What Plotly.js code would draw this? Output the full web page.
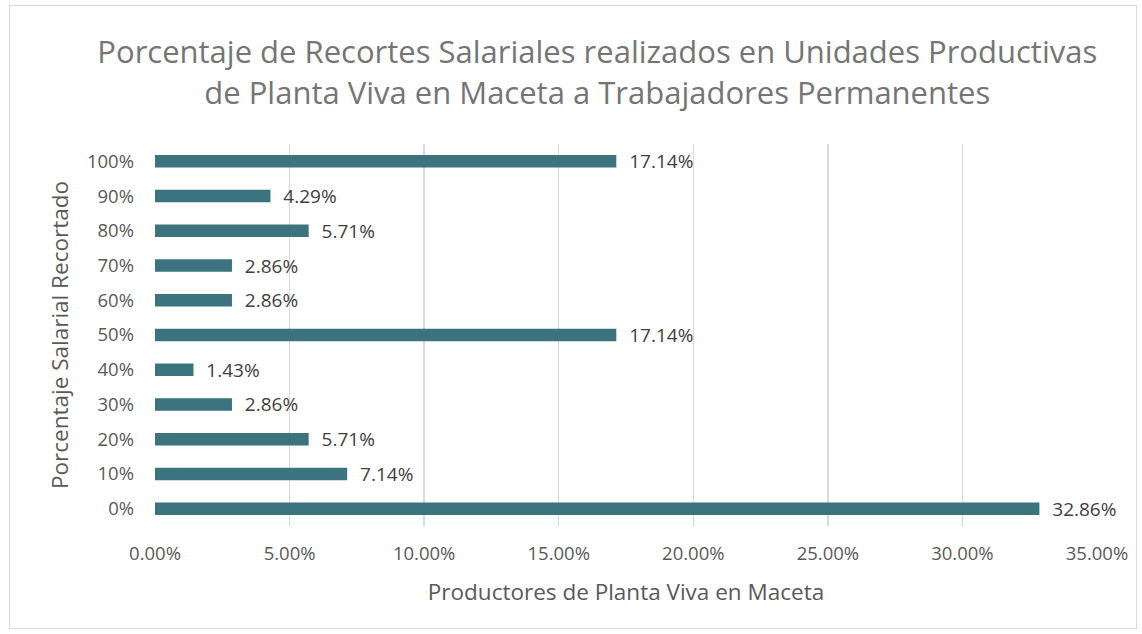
<!DOCTYPE html>
<html>
<head>
<meta charset="utf-8">
<script src="https://cdn.plot.ly/plotly-3.0.1.min.js"></script>
<style>
html,body{margin:0;padding:0;background:#fff;}
#wrap{position:relative;width:1142px;height:634px;}
#chart{width:1142px;height:634px;}
#frame{position:absolute;left:9px;top:5px;width:1128px;height:624px;border:1px solid #d9d9d9;pointer-events:none;box-sizing:border-box;}
</style>
</head>
<body>
<div id="wrap"><div id="chart"></div><div id="frame"></div></div>
<script>
const categories = ['0%','10%','20%','30%','40%','50%','60%','70%','80%','90%','100%'];
const values = [32.86, 7.14, 5.71, 2.86, 1.43, 17.14, 2.86, 2.86, 5.71, 4.29, 17.14];
const titleText = 'Porcentaje de Recortes Salariales realizados en Unidades Productivas<br>de Planta Viva en Maceta a Trabajadores Permanentes';
const xTitle = 'Productores de Planta Viva en Maceta';
const yTitle = 'Porcentaje Salarial Recortado';

const font = '"Open Sans", Lato, sans-serif';
const trace = {
  type: 'bar',
  orientation: 'h',
  x: values,
  y: categories,
  width: 0.36,
  marker: {color: '#3b737e'},
  texttemplate: '\u00a0\u00a0%{x:.2f}%',
  textposition: 'outside',
  constraintext: 'none',
  cliponaxis: false,
  textfont: {family: font, size: 19, color: '#404040'},
  hoverinfo: 'none'
};
const layout = {
  width: 1142, height: 634,
  margin: {l: 155, r: 45, t: 144, b: 108},
  paper_bgcolor: '#ffffff',
  plot_bgcolor: '#ffffff',
  showlegend: false,
  title: {text: titleText, x: 0.523, xanchor: 'center', yref: 'container', y: 0.9, yanchor: 'middle',
          font: {family: font, size: 31, color: '#757575'}},
  xaxis: {
    range: [0, 35], dtick: 5, tick0: 0,
    tickformat: '.2f', ticksuffix: '%',
    showgrid: true, gridcolor: '#d9d9d9', gridwidth: 1.5,
    zeroline: false, showline: false,
    tickfont: {family: font, size: 18.5, color: '#595959'},
    ticklen: 0, ticks: '', ticklabelstandoff: 14,
    title: {text: xTitle, font: {family: font, size: 22.5, color: '#595959'}, standoff: 20}
  },
  yaxis: {
    type: 'category',
    categoryorder: 'array', categoryarray: categories,
    showgrid: false, zeroline: false, showline: false,
    tickfont: {family: font, size: 18.5, color: '#595959'},
    ticks: '', ticklen: 0, ticklabelstandoff: 20,
    title: {text: yTitle, font: {family: font, size: 22.5, color: '#595959'}, standoff: 12}
  },
  bargap: 0.64
};
Plotly.newPlot('chart', [trace], layout, {displayModeBar: false, staticPlot: true});
</script>
</body>
</html>
